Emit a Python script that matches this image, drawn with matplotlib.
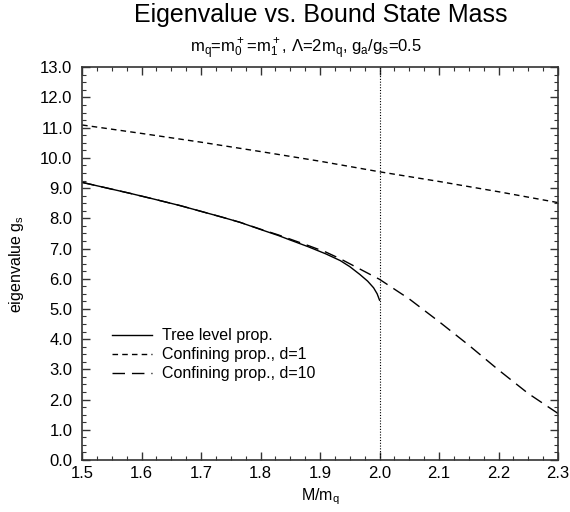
import matplotlib
matplotlib.use("Agg")
import matplotlib.pyplot as plt
from matplotlib.ticker import MultipleLocator, FormatStrFormatter

plt.rcParams['font.family'] = ['Liberation Sans', 'DejaVu Sans']
plt.rcParams['mathtext.default'] = 'regular'

# tree level propagator (ends at threshold M = 2 m_q)
tree_x = [1.50, 1.54, 1.58, 1.62, 1.665, 1.70, 1.735, 1.765, 1.80, 1.83,
          1.85, 1.88, 1.91, 1.934, 1.95, 1.967, 1.98, 1.99, 1.996, 2.00]
tree_y = [9.19, 9.01, 8.83, 8.64, 8.42, 8.23, 8.04, 7.87, 7.63, 7.43,
          7.28, 7.06, 6.82, 6.60, 6.40, 6.14, 5.92, 5.70, 5.50, 5.29]

# confining propagator, d=1
d1_x = [1.50, 1.60, 1.70, 1.80, 1.90, 2.00, 2.10, 2.20, 2.30]
d1_y = [11.09, 10.81, 10.52, 10.21, 9.89, 9.54, 9.22, 8.88, 8.52]

# confining propagator, d=10
d10_x = [1.50, 1.54, 1.58, 1.62, 1.665, 1.70, 1.735, 1.765, 1.80, 1.83,
         1.85, 1.88, 1.91, 1.934, 1.967, 2.00, 2.05, 2.10, 2.15, 2.20,
         2.25, 2.30]
d10_y = [9.19, 9.01, 8.83, 8.64, 8.42, 8.23, 8.04, 7.87, 7.64, 7.45,
         7.31, 7.10, 6.88, 6.66, 6.32, 5.98, 5.33, 4.58, 3.80, 2.98,
         2.20, 1.54]

fig = plt.figure(figsize=(5.7, 5.12), dpi=100)
ax = fig.add_axes([0.144, 0.1016, 0.835, 0.767])

ax.plot(tree_x, tree_y, color="black", lw=1.0, label="Tree level prop.")
ax.plot(d1_x, d1_y, color="black", lw=1.0, dashes=(4, 3),
        label="Confining prop., d=1")
ax.plot(d10_x, d10_y, color="black", lw=1.0, dashes=(9, 5),
        label="Confining prop., d=10")
ax.axvline(2.0, color="black", lw=0.8, linestyle=(0, (1, 1.5)))

ax.set_xlim(1.5, 2.3)
ax.set_ylim(0, 13)
ax.xaxis.set_major_locator(MultipleLocator(0.1))
ax.xaxis.set_minor_locator(MultipleLocator(0.025))
ax.yaxis.set_major_locator(MultipleLocator(1.0))
ax.yaxis.set_minor_locator(MultipleLocator(0.25))
ax.xaxis.set_major_formatter(FormatStrFormatter("%.1f"))
ax.yaxis.set_major_formatter(FormatStrFormatter("%.1f"))
ax.tick_params(which="both", direction="in", top=True, right=True,
               labelsize=12, color="#333333")
ax.tick_params(which="major", length=6, width=1)
ax.tick_params(which="minor", length=3, width=0.8)
ax.tick_params(axis="x", pad=4)
ax.tick_params(axis="y", pad=7)
for s in ax.spines.values():
    s.set_color("#333333")
    s.set_linewidth(1.2)

ax.set_xlabel("M/m$_q$", fontsize=11.5, labelpad=4)
ax.set_ylabel("eigenvalue g$_s$", fontsize=11.5, labelpad=10)

# titles
fig.text(0.563, 0.958, "Eigenvalue vs. Bound State Mass", fontsize=18,
         ha="center", va="baseline")
fig.text(0.537, 0.898,
         "m$_q$=m$_0^+$=m$_1^+$, \u039b=2m$_q$, g$_a$/g$_s$=0.5",
         fontsize=12, ha="center", va="baseline")

ax.legend(loc="upper left", bbox_to_anchor=(0.063, 0.335), frameon=False,
          borderpad=0, borderaxespad=0, fontsize=11.5, handlelength=2.5,
          handletextpad=0.6, labelspacing=0.25)

fig.savefig("out.png", dpi=100)
